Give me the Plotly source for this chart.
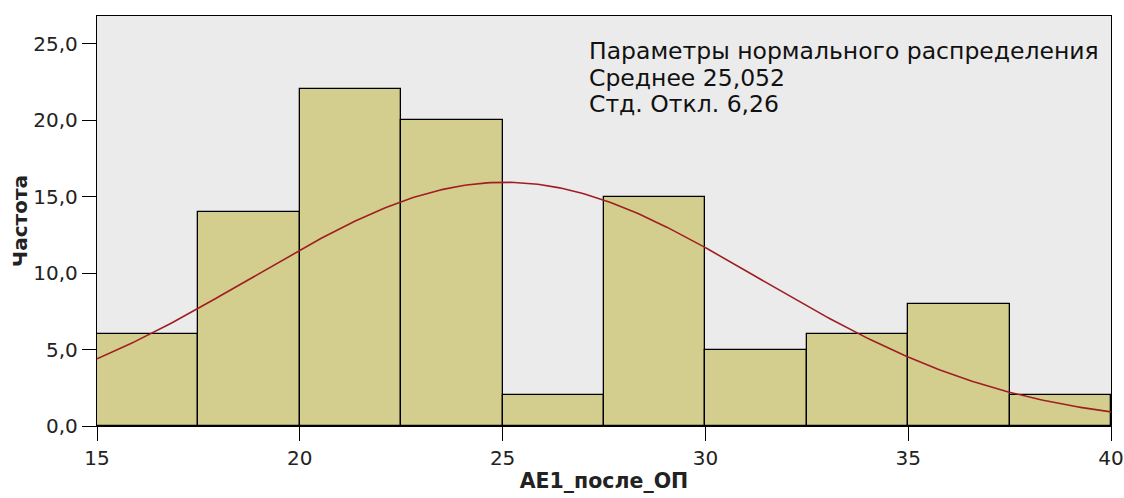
import numpy as np
import plotly.graph_objects as go

bin_starts = [15, 17.5, 20, 22.5, 25, 27.5, 30, 32.5, 35, 37.5]
bin_width = 2.5
counts = [6, 14, 22, 20, 2, 15, 5, 6, 8, 2]
mean_val = 25.052
sd_val = 6.26
x_ticks = [15, 20, 25, 30, 35, 40]
y_ticks = [0, 5, 10, 15, 20, 25]
y_tick_text = ["0,0", "5,0", "10,0", "15,0", "20,0", "25,0"]
info_lines = ["Параметры нормального распределения", "Среднее 25,052", "Стд. Откл. 6,26"]

n_total = sum(counts)
xs = np.linspace(15, 40, 300)
ys = n_total * bin_width / (sd_val * np.sqrt(2 * np.pi)) * np.exp(-0.5 * ((xs - mean_val) / sd_val) ** 2)

FONT = "DejaVu Sans"

fig = go.Figure()
fig.add_trace(go.Bar(
    x=[b + bin_width / 2 for b in bin_starts], y=counts, width=bin_width,
    marker=dict(color="rgb(211,206,142)", line=dict(color="black", width=1.3)),
    hoverinfo="skip"))
fig.add_trace(go.Scatter(x=xs, y=ys, mode="lines",
                         line=dict(color="rgb(160,30,35)", width=1.6), hoverinfo="skip"))

fig.update_layout(
    width=1124, height=498,
    margin=dict(l=97, r=13, t=16, b=72),
    paper_bgcolor="white", plot_bgcolor="rgb(235,235,235)",
    showlegend=False, bargap=0,
    font=dict(family=FONT, color="#222", size=20),
)
fig.update_xaxes(range=[15, 40], tickvals=x_ticks, ticks="outside", ticklen=14,
                 tickcolor="black", tickwidth=1.3, showgrid=False, zeroline=False,
                 showline=True, linecolor="black", linewidth=1.3, mirror=True,
                 automargin=False, tickfont=dict(size=20, family=FONT),
                 title=dict(text="<b>АЕ1_после_ОП</b>", font=dict(size=20.5, family=FONT), standoff=4))
fig.update_yaxes(range=[0, 26.8], tickvals=y_ticks, ticktext=y_tick_text, ticks="outside",
                 ticklen=14, tickcolor="black", tickwidth=1.3, showgrid=False, zeroline=False,
                 showline=True, linecolor="black", linewidth=1.3, mirror=True,
                 automargin=False, tickfont=dict(size=20, family=FONT),
                 title=dict(text="<b>Частота</b>", font=dict(size=20, family=FONT), standoff=0))

line_y = [0.915, 0.85, 0.785]
for txt, yy in zip(info_lines, line_y):
    fig.add_annotation(xref="paper", yref="paper", x=0.483, y=yy, xanchor="left", yanchor="middle",
                       align="left", showarrow=False, text=txt,
                       font=dict(size=23.5, family=FONT, color="#111"))

fig.write_html("out.html", config={"displayModeBar": False},
               post_script="document.body.style.margin='0';document.body.style.overflow='hidden';")
